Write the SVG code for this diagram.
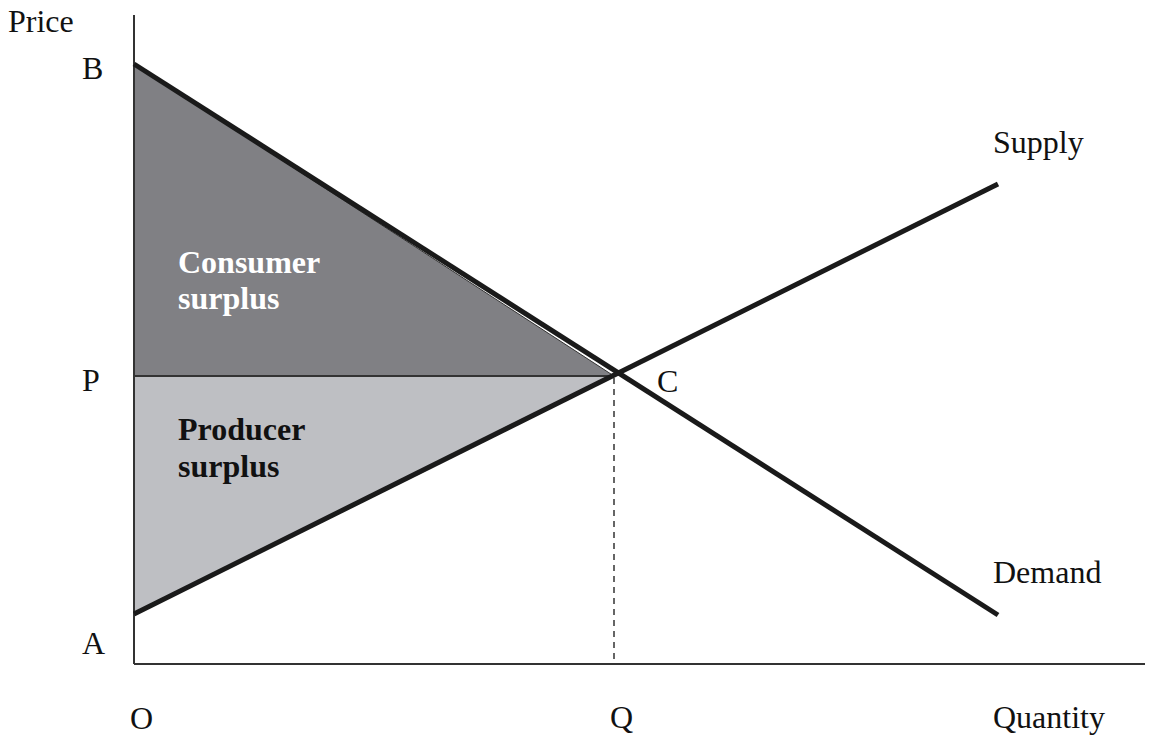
<svg xmlns="http://www.w3.org/2000/svg" width="1160" height="736" viewBox="0 0 1160 736">
<style>
text{font-family:"Liberation Serif","Times New Roman",serif;font-size:32px;fill:#111}
.b{font-weight:bold}
.curve{stroke:#1a1a1a;stroke-width:5;fill:none}
.axis{stroke:#333;stroke-width:2;fill:none}
</style>
<rect width="1160" height="736" fill="#fff"/>
<g id="areas">
<polygon id="consumer-area" points="134,64 614,376 134,376" fill="#808084" stroke="#333" stroke-width="1"/>
<polygon id="producer-area" points="134,376 614,376 134,614" fill="#bebfc3"/>
</g>
<g id="connectors">
<line class="axis" x1="134" y1="15" x2="134" y2="664"/>
<line class="axis" x1="134" y1="664" x2="1145" y2="664"/>
<line class="axis" x1="134" y1="376" x2="614" y2="376"/>
<line stroke="#333" stroke-width="1.5" stroke-dasharray="6,5" x1="614" y1="378" x2="614" y2="664"/>
<line id="demand" class="curve" x1="134" y1="64" x2="998" y2="615"/>
<line id="supply" class="curve" x1="134" y1="614" x2="998" y2="184"/>
</g>
<g id="labels">
<text x="8" y="32">Price</text>
<text x="82" y="79">B</text>
<text x="82" y="391">P</text>
<text x="82" y="654">A</text>
<text x="130" y="729">O</text>
<text x="610" y="728">Q</text>
<text x="657" y="392">C</text>
<text x="993" y="153">Supply</text>
<text x="993" y="583">Demand</text>
<text x="993" y="728">Quantity</text>
<text class="b" x="178" y="273" style="fill:#fff">Consumer</text>
<text class="b" x="178" y="309" style="fill:#fff">surplus</text>
<text class="b" x="178" y="440">Producer</text>
<text class="b" x="178" y="477">surplus</text>
</g>
</svg>
